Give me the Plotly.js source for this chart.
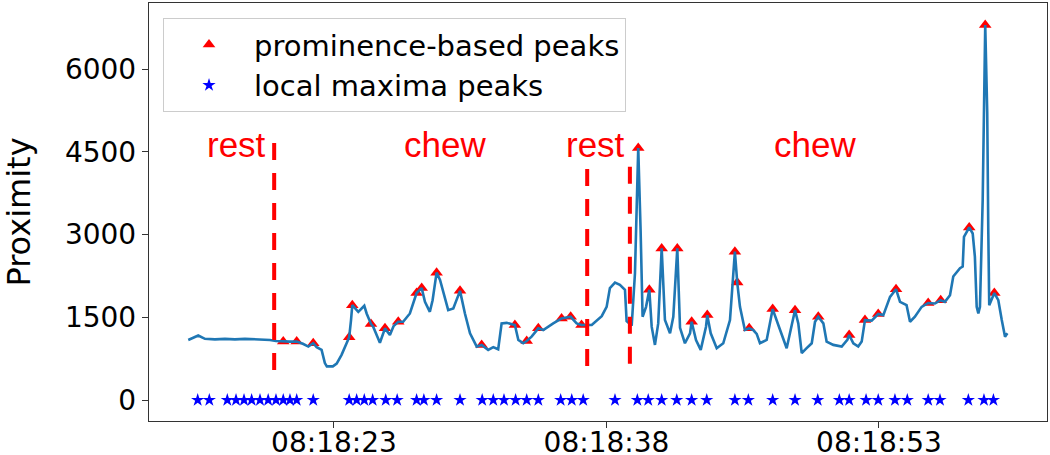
<!DOCTYPE html>
<html>
<head>
<meta charset="utf-8">
<script src="https://cdn.plot.ly/plotly-3.0.1.min.js"></script>
<style>html,body{margin:0;padding:0;background:#fff;}#chart{width:1050px;height:455px;}</style>
</head>
<body>
<div id="chart"></div>
<script>
// Time in seconds after 08:18:00
const tSec = [14.98,15.53,15.90,16.45,17.00,17.55,18.10,18.65,19.20,19.48,
  19.81,20.21,20.58,20.95,21.29,21.59,21.86,22.05,22.32,22.50,
  22.61,22.94,23.15,23.42,23.70,23.84,23.94,24.01,24.34,24.67,
  24.80,25.04,25.16,25.53,25.81,26.08,26.28,26.54,26.81,27.18,
  27.55,27.83,28.01,28.28,28.43,28.65,28.84,29.29,29.57,29.94,
  30.21,30.49,30.86,31.13,31.49,31.77,32.04,32.23,32.51,32.96,
  33.15,33.42,33.61,33.88,34.25,34.52,35.07,35.53,36.03,36.36,
  36.63,37.19,37.74,38.01,38.19,38.47,38.74,39.02,39.11,39.39,
  39.57,39.75,39.88,39.99,40.18,40.36,40.49,40.67,40.85,41.04,
  41.22,41.50,41.68,41.90,42.05,42.32,42.60,42.69,42.93,43.19,
  43.48,43.55,43.74,44.07,44.43,44.80,45.07,45.20,45.35,45.62,
  45.86,46.08,46.27,46.45,46.82,47.15,47.46,47.92,48.20,48.38,
  48.56,48.75,49.02,49.30,49.48,49.66,49.94,50.12,50.49,50.95,
  51.26,51.36,51.59,51.86,52.05,52.23,52.60,52.96,53.24,53.61,
  53.94,54.16,54.52,54.71,54.98,55.35,55.71,56.08,56.40,56.63,
  56.91,57.09,57.46,57.61,57.68,57.97,58.16,58.28,58.38,58.47,
  58.56,58.71,58.85,58.96,59.02,59.07,59.35,59.57,59.76,59.94,60.07];
const proximity = [1090,1170,1110,1100,1110,1100,1110,1100,1100,1090,
  1070,1060,1060,1060,1020,970,1030,960,910,670,
  610,610,660,820,1050,1140,1450,1720,1600,1710,
  1570,1380,1330,1040,1300,1180,1340,1420,1420,1570,
  1940,2030,1780,1600,1810,2310,2180,1630,1660,1980,
  1570,1210,970,1000,910,960,920,1390,1400,1360,
  1090,1030,1070,1150,1300,1270,1390,1480,1510,1390,
  1360,1360,1520,1690,2030,2130,2090,2000,1430,1350,
  2300,4570,3080,1510,1690,2000,1330,1000,1390,2750,
  1450,1210,1510,2750,1310,1030,1210,1420,1090,910,
  1330,1540,1210,940,1030,1450,2690,2130,1690,1270,
  1300,1270,1200,1030,1090,1650,1360,940,1360,1630,
  1390,850,940,1030,1420,1510,1390,1060,1000,970,
  1090,1180,1030,970,1060,1450,1440,1560,1540,1870,
  2010,1780,1720,1420,1510,1690,1760,1750,1810,1780,
  1900,2240,2390,2420,2960,3130,3020,2600,1690,1570,
  1690,3630,6800,5210,3030,1720,1940,1810,1450,1150,1210];

// prominence-based peaks
const promT = [20.21,20.95,21.86,23.84,24.01,25.04,25.81,26.54,27.55,27.83,
  28.65,29.94,31.13,32.96,33.61,34.25,35.53,36.03,36.63,39.75,
  40.36,41.04,41.90,42.69,43.55,45.07,45.20,45.86,47.15,48.38,
  49.66,51.36,52.23,52.96,53.94,55.71,56.40,57.97,58.85,59.35];
const promV = [1060,1060,1030,1140,1720,1380,1300,1420,1940,2030,
  2310,1980,1000,1360,1070,1300,1480,1510,1360,4570,
  2000,2750,2750,1420,1540,2690,2130,1300,1650,1630,
  1510,1180,1450,1560,2010,1760,1810,3130,6800,1940];

// local maxima peaks (drawn on the zero line)
const localT = [15.50,16.14,17.13,17.61,18.05,18.47,18.93,19.38,19.81,20.21,
  20.58,20.95,21.86,23.84,24.25,24.67,25.13,25.85,26.48,27.55,
  27.95,28.65,29.94,31.16,31.77,32.36,33.00,33.61,34.25,35.48,
  36.09,36.72,38.47,39.70,40.30,41.04,41.87,42.69,43.52,45.07,
  45.81,47.15,48.38,49.63,50.82,51.36,52.29,52.96,53.88,54.56,
  55.71,56.36,57.92,58.78,59.30];
const localV = [0,0,0,0,0,0,0,0,0,0,
  0,0,0,0,0,0,0,0,0,0,
  0,0,0,0,0,0,0,0,0,0,
  0,0,0,0,0,0,0,0,0,0,
  0,0,0,0,0,0,0,0,0,0,
  0,0,0,0,0];

// phase boundaries (dashed lines)
const boundaryT = [19.71, 36.94, 39.29];
const boundaryTop = [4660, 4190, 4230];
const boundaryBottom = [440, 440, 440];

// phase labels
const phaseLabels = ['rest', 'chew', 'rest', 'chew'];
const phaseT = [17.61, 29.14, 37.42, 49.48];
const phaseV = [4630, 4630, 4630, 4630];

const xTickSec = [23, 38, 53];
const xRangeSec = [12.82, 62.25];
const yTicks = [0, 1500, 3000, 4500, 6000];

function pad(n, w) { return String(n).padStart(w, '0'); }
function toDate(s) {
  const total = 8 * 3600 + 18 * 60 + s;
  const h = Math.floor(total / 3600);
  const m = Math.floor((total - h * 3600) / 60);
  const sec = total - h * 3600 - m * 60;
  const whole = Math.floor(sec);
  const ms = Math.round((sec - whole) * 1000);
  return '2020-01-01 ' + pad(h, 2) + ':' + pad(m, 2) + ':' + pad(whole, 2) + '.' + pad(ms, 3);
}

const traces = [];
traces.push({
  x: promT.map(toDate), y: promV, mode: 'markers', type: 'scatter',
  name: 'prominence-based peaks',
  marker: {symbol: 'triangle-up', size: 11, color: '#ff0000'}
});
traces.push({
  x: tSec.map(toDate), y: proximity, mode: 'lines', type: 'scatter',
  showlegend: false,
  line: {color: '#1f77b4', width: 2.6}
});
traces.push({
  x: localT.map(toDate), y: localV, mode: 'markers', type: 'scatter',
  name: 'local maxima peaks',
  marker: {symbol: 'star', size: 10, color: '#0000ff'}
});
boundaryT.forEach((t, i) => {
  traces.push({
    x: [toDate(t), toDate(t)], y: [boundaryTop[i], boundaryBottom[i]],
    mode: 'lines', type: 'scatter', showlegend: false,
    line: {color: '#ff0000', width: 4, dash: '17px,13px'}
  });
});

const annotations = phaseLabels.map((txt, i) => ({
  x: toDate(phaseT[i]), y: phaseV[i], xref: 'x', yref: 'y',
  text: txt, showarrow: false, xanchor: 'center', yanchor: 'middle',
  font: {family: 'Liberation Sans, Arial, sans-serif', size: 35, color: '#ff0000'}
}));

const tickFont = {family: 'DejaVu Sans, sans-serif', size: 28, color: '#000'};

const layout = {
  width: 1050, height: 455,
  margin: {l: 149, r: 3, t: 3, b: 34, pad: 0},
  paper_bgcolor: '#ffffff', plot_bgcolor: '#ffffff',
  showlegend: true,
  legend: {
    x: 0.0156, y: 0.964, xanchor: 'left', yanchor: 'top',
    bgcolor: '#ffffff', bordercolor: '#cccccc', borderwidth: 1,
    font: {family: 'DejaVu Sans, sans-serif', size: 29, color: '#000'},
    itemwidth: 80
  },
  xaxis: {
    type: 'date',
    range: xRangeSec.map(toDate),
    tickvals: xTickSec.map(toDate),
    tickformat: '%H:%M:%S',
    ticks: 'outside', ticklen: 6, tickwidth: 1, tickcolor: '#333',
    ticklabelstandoff: -10,
    showgrid: false, zeroline: false,
    showline: true, mirror: true, linecolor: '#333', linewidth: 1.2,
    tickfont: tickFont
  },
  yaxis: {
    range: [-380, 7200],
    tickvals: yTicks,
    ticktext: yTicks.map(String),
    ticks: 'outside', ticklen: 6, tickwidth: 1, tickcolor: '#333',
    showgrid: false, zeroline: false,
    showline: true, mirror: true, linecolor: '#333', linewidth: 1.2,
    tickfont: tickFont,
    title: {text: 'Proximity', standoff: 32, font: {family: 'DejaVu Sans, sans-serif', size: 32, color: '#000'}}
  },
  annotations: annotations
};

Plotly.newPlot('chart', traces, layout, {displayModeBar: false, staticPlot: true});
</script>
</body>
</html>
